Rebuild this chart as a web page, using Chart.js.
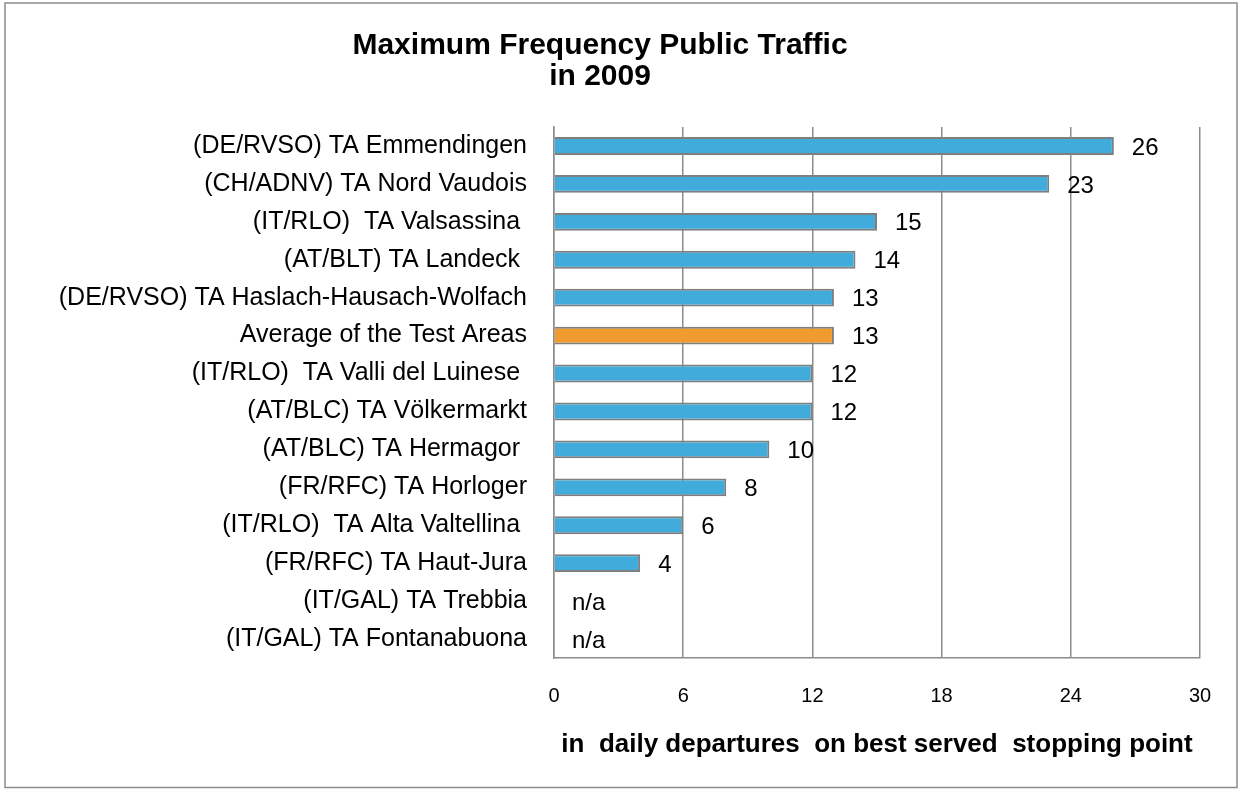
<!DOCTYPE html>
<html>
<head>
<meta charset="utf-8">
<script src="https://cdn.jsdelivr.net/npm/chart.js@4.4.1/dist/chart.umd.min.js"></script>
<style>
  html, body { margin: 0; padding: 0; background: #fff; }
  #wrap { width: 1239px; height: 789px; }
</style>
</head>
<body>
<div id="wrap"><canvas id="freqChart" width="1239" height="789"></canvas></div>
<script>
const areas = [
  '(DE/RVSO) TA Emmendingen',
  '(CH/ADNV) TA Nord Vaudois',
  '(IT/RLO)  TA Valsassina ',
  '(AT/BLT) TA Landeck ',
  '(DE/RVSO) TA Haslach-Hausach-Wolfach',
  'Average of the Test Areas',
  '(IT/RLO)  TA Valli del Luinese ',
  '(AT/BLC) TA Völkermarkt',
  '(AT/BLC) TA Hermagor ',
  '(FR/RFC) TA Horloger',
  '(IT/RLO)  TA Alta Valtellina ',
  '(FR/RFC) TA Haut-Jura',
  '(IT/GAL) TA Trebbia',
  '(IT/GAL) TA Fontanabuona'
];
// null = no data (shown as n/a)
const departures = [26, 23, 15, 14, 13, 13, 12, 12, 10, 8, 6, 4, null, null];
const averageLabel = 'Average of the Test Areas';
const xTicks = [0, 6, 12, 18, 24, 30];

const blue = '#41abdb';
const orange = '#f09b2d';
const lineGrey = '#8c8c8c';
const fontFamily = '"Liberation Sans", Arial, sans-serif';

const barColors = areas.map(a => a === averageLabel ? orange : blue);

// value labels next to the bars, "n/a" where there is no value
const valueLabels = {
  id: 'valueLabels',
  afterDatasetsDraw(chart) {
    const { ctx } = chart;
    const meta = chart.getDatasetMeta(0);
    const xScale = chart.scales.x;
    ctx.save();
    ctx.font = '24px ' + fontFamily;
    ctx.fillStyle = '#000';
    ctx.textAlign = 'left';
    ctx.textBaseline = 'middle';
    meta.data.forEach((bar, i) => {
      const v = departures[i];
      if (v === null) {
        ctx.fillText('n/a', xScale.getPixelForValue(0) + 18, bar.y + 2);
      } else {
        ctx.fillText(String(v), bar.x + 18, bar.y + 2);
      }
    });
    ctx.restore();
  }
};

// white background and outer frame
const frame = {
  id: 'frame',
  beforeDraw(chart) {
    const { ctx, width, height } = chart;
    ctx.save();
    ctx.fillStyle = '#fff';
    ctx.fillRect(0, 0, width, height);
    ctx.restore();
  },
  afterDraw(chart) {
    const { ctx } = chart;
    ctx.save();
    ctx.strokeStyle = '#8c8c8c';
    ctx.lineWidth = 1.5;
    ctx.strokeRect(5, 3, 1232, 784.5);
    ctx.restore();
  }
};

const ctx = document.getElementById('freqChart').getContext('2d');
const freqChart = new Chart(ctx, {
  type: 'bar',
  data: {
    labels: areas,
    datasets: [{
      data: departures,
      backgroundColor: barColors,
      borderColor: '#7f7f7f',
      borderWidth: 2,
      categoryPercentage: 1,
      barPercentage: 0.47
    }]
  },
  options: {
    indexAxis: 'y',
    responsive: false,
    animation: false,
    layout: { padding: { left: 0, right: 39, top: 0, bottom: 0 } },
    plugins: {
      legend: { display: false },
      tooltip: { enabled: false },
      title: {
        display: true,
        text: ['Maximum Frequency Public Traffic', 'in 2009'],
        color: '#000',
        font: { family: fontFamily, size: 30, weight: 'bold', lineHeight: '31px' },
        padding: { top: 30, bottom: 35 }
      }
    },
    scales: {
      x: {
        min: 0,
        max: 30,
        afterBuildTicks: axis => { axis.ticks = xTicks.map(v => ({ value: v })); },
        afterFit: axis => { axis.height = 131; },
        grid: { color: lineGrey, lineWidth: 1.5, drawTicks: false },
        border: { display: true, color: lineGrey, width: 1.5 },
        ticks: {
          color: '#000',
          padding: 26,
          font: { family: fontFamily, size: 20 }
        },
        title: {
          display: true,
          text: 'in  daily departures  on best served  stopping point',
          color: '#000',
          font: { family: fontFamily, size: 26, weight: 'bold', lineHeight: 1.2 },
          padding: { top: 0, bottom: 29 }
        }
      },
      y: {
        afterFit: axis => { axis.width = 554; },
        grid: { display: false },
        border: { display: true, color: lineGrey, width: 1.5 },
        ticks: {
          color: '#000',
          padding: 19,
          font: { family: fontFamily, size: 25 }
        }
      }
    }
  },
  plugins: [frame, valueLabels]
});
</script>
</body>
</html>
